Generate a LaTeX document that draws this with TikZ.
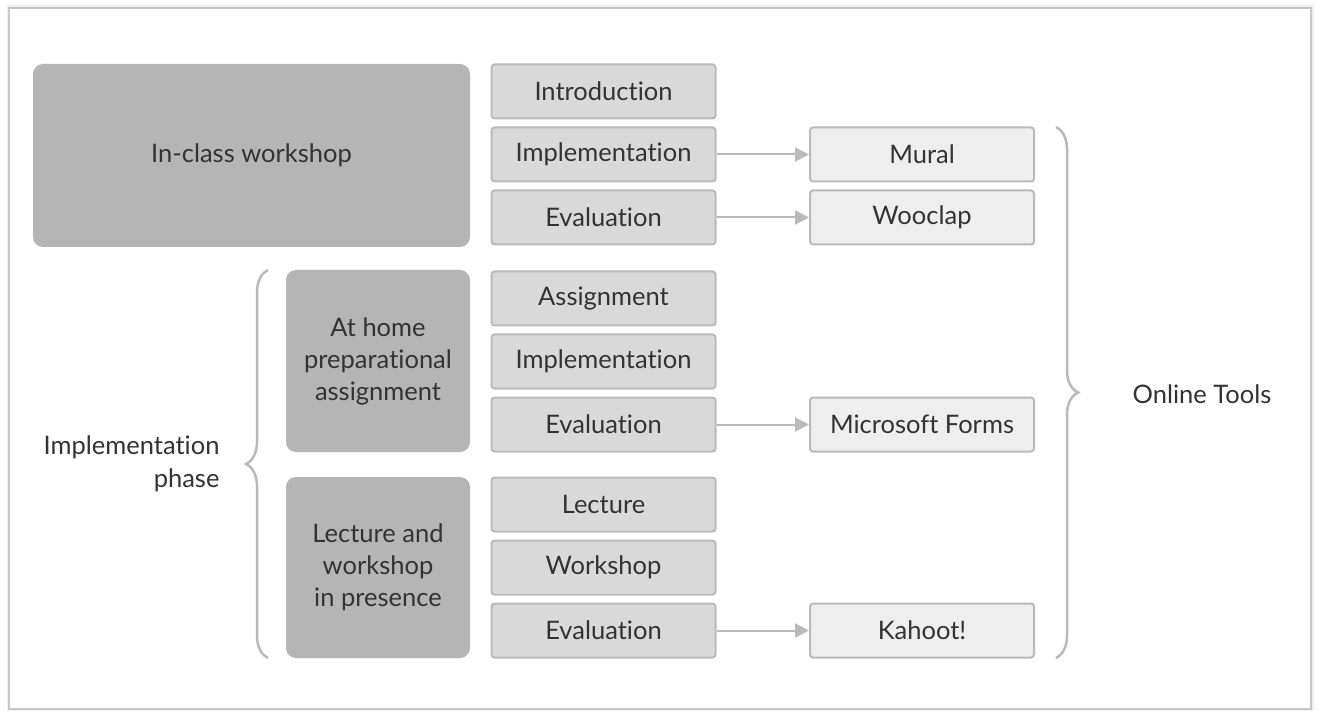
\documentclass[tikz,border=0pt]{standalone}
\usepackage{fontspec}
\setmainfont{Lato}[Ligatures=NoCommon]
\usetikzlibrary{arrows.meta,decorations.pathreplacing}
\definecolor{txt}{HTML}{333333}
\definecolor{dark}{HTML}{B5B5B5}
\definecolor{mid}{HTML}{D9D9D9}
\definecolor{light}{HTML}{EEEEEE}
\definecolor{edge}{HTML}{BABABA}
\tikzset{
  box/.style={rounded corners=3pt, draw=edge, line width=2pt, fill=mid,
    minimum width=224pt, minimum height=54pt, text=txt, inner sep=0pt},
  toolbox/.style={box, fill=light},
  phase/.style={rounded corners=10pt, fill=dark, text=txt, align=center,
    inner sep=0pt, font=\fontsize{25.5}{32}\selectfont},
  arr/.style={-{Triangle[length=14pt,width=14pt]}, draw=edge, line width=2pt},
  bracket/.style={decorate, decoration={brace, amplitude=22pt}, draw=edge,
    line width=2.5pt},
}
\begin{document}
\begin{tikzpicture}[x=1pt, y=-1pt, font=\fontsize{25.5}{33}\selectfont]
\useasboundingbox (0,0) rectangle (1320,711);
\draw[line width=5pt, black!6] (9,8) rectangle (1311,709);
\draw[line width=1.5pt, black!22, fill=white] (9,8) rectangle (1311,709);

\node[phase, minimum width=437pt, minimum height=183pt] (ws) at (251.5,155.5) {In-class workshop};
\node[phase, minimum width=184pt, minimum height=182pt] (home) at (378,361) {At home\\preparational\\assignment};
\node[phase, minimum width=184pt, minimum height=181pt] (lect) at (378,567.5) {Lecture and\\workshop\\in presence};

\foreach \n/\y/\t in {intro/91.5/Introduction, impA/154.5/Implementation, evalA/217.5/Evaluation,
    assign/298.5/Assignment, impB/361.5/Implementation, evalB/424.5/Evaluation,
    lecture/504.5/Lecture, shop/567.5/Workshop, evalC/630.5/Evaluation}
  \node[box] (\n) at (603.5,\y) {\t};

\node[toolbox] (mural) at (922,154.5) {Mural};
\node[toolbox] (wooclap) at (922,217.5) {Wooclap};
\node[toolbox] (forms) at (922,424.5) {Microsoft Forms};
\node[toolbox] (kahoot) at (922,630.5) {Kahoot!};

\draw[arr] (impA) -- (mural);
\draw[arr] (evalA) -- (wooclap);
\draw[arr] (evalB) -- (forms);
\draw[arr] (evalC) -- (kahoot);

\coordinate (rtop) at (1056,127);
\coordinate (rbot) at (1056,658);
\draw[bracket] (rtop) -- (rbot);
\node[text=txt] (tools) at (1202,394) {Online Tools};

\coordinate (ltop) at (268,270);
\coordinate (lbot) at (268,658);
\draw[bracket] (lbot) -- (ltop);
\node[text=txt, align=right, anchor=east] (impl) at (223,464) {Implementation\\phase};
\end{tikzpicture}
\end{document}
